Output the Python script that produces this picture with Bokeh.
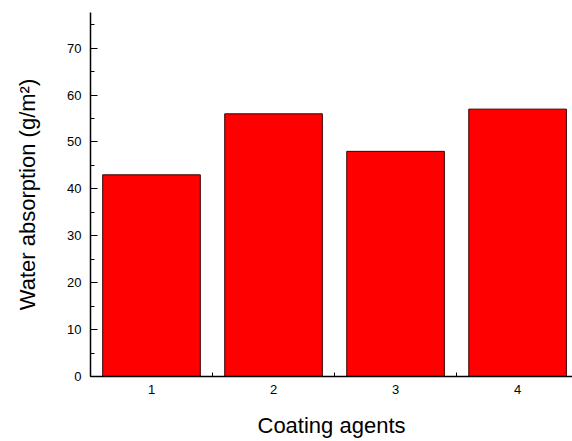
from bokeh.plotting import figure
from bokeh.models import FixedTicker, Range1d
from bokeh.embed import file_html
from bokeh.resources import INLINE

agents = [1, 2, 3, 4]
absorption = [43, 56, 48, 57]
y_major = [0, 10, 20, 30, 40, 50, 60, 70]
y_minor = [5, 15, 25, 35, 45, 55, 65, 75]
x_minor = [0.5, 1.5, 2.5, 3.5, 4.5]

p = figure(width=572, height=441, output_backend="svg", toolbar_location=None,
           x_range=Range1d(0.5, 4.45), y_range=Range1d(0, 77.6),
           min_border_left=90, min_border_right=0, min_border_top=12, min_border_bottom=65)
p.outline_line_color = None
p.grid.grid_line_color = None
p.background_fill_color = "white"

p.vbar(x=agents, top=absorption, width=0.8, bottom=0,
       fill_color="#FF0000", line_color="#3a0000", line_width=1)

font = "Liberation Sans"
p.xaxis.ticker = FixedTicker(ticks=agents, minor_ticks=x_minor)
p.yaxis.ticker = FixedTicker(ticks=y_major, minor_ticks=y_minor)

for ax in (p.xaxis, p.yaxis):
    ax.axis_line_color = "black"
    ax.axis_line_width = 1.5
    ax.major_tick_line_color = "black"
    ax.minor_tick_line_color = "black"
    ax.major_tick_out = 0
    ax.minor_tick_out = 0
    ax.major_label_text_font = font
    ax.major_label_text_font_size = "13px"
    ax.major_label_text_color = "black"
    ax.axis_label_text_font = font
    ax.axis_label_text_font_style = "normal"
    ax.axis_label_text_font_size = "22px"
    ax.axis_label_text_color = "black"

p.xaxis.major_tick_in = 0
p.xaxis.minor_tick_in = 4
p.yaxis.major_tick_in = 7
p.yaxis.minor_tick_in = 4
p.xaxis.major_label_standoff = 8
p.yaxis.major_label_standoff = 9
p.xaxis.axis_label = "Coating agents"
p.yaxis.axis_label = "Water absorption (g/m²)"
p.xaxis.axis_label_standoff = 16
p.yaxis.axis_label_standoff = 24

open("out.html", "w").write(file_html(p, INLINE))
